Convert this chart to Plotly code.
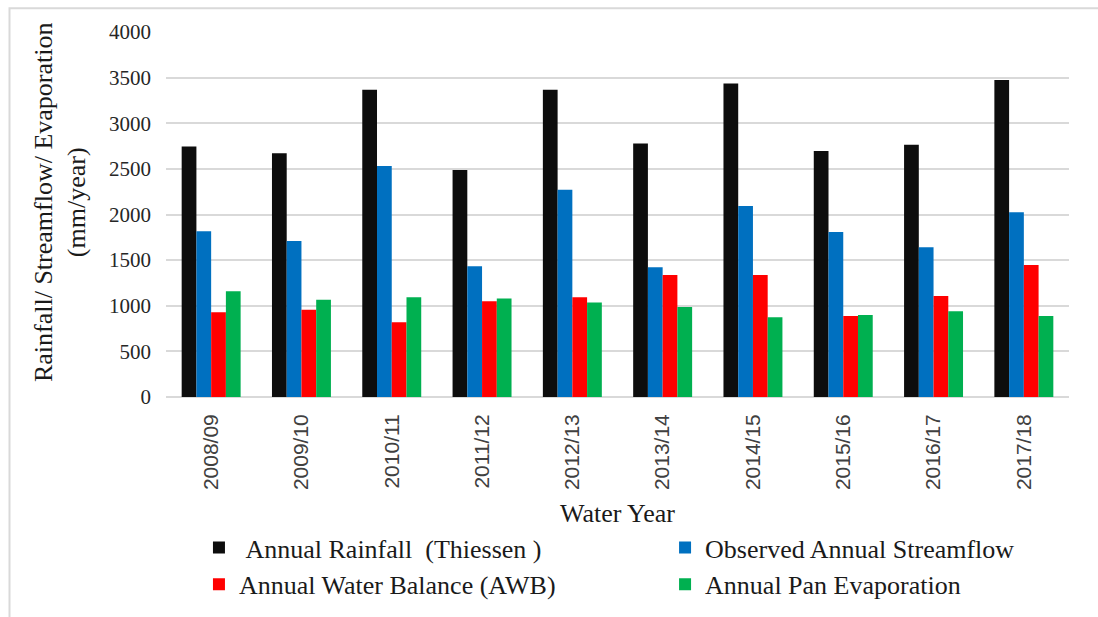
import plotly.graph_objects as go

# Water years on the category axis
years = ["2008/09", "2009/10", "2010/11", "2011/12", "2012/13",
         "2013/14", "2014/15", "2015/16", "2016/17", "2017/18"]

# Annual totals, mm/year
rainfall = [2746, 2670, 3366, 2487, 3366, 2779, 3435, 2695, 2764, 3475]
streamflow = [1816, 1710, 2531, 1433, 2271, 1422, 2093, 1808, 1641, 2024]
water_balance = [930, 955, 820, 1050, 1094, 1338, 1338, 889, 1108, 1447]
pan_evaporation = [1160, 1065, 1094, 1079, 1035, 985, 875, 900, 941, 889]

y_ticks = [0, 500, 1000, 1500, 2000, 2500, 3000, 3500, 4000]

# name, values, colour, legend column
series = [
    ("\u00a0Annual Rainfall \u00a0(Thiessen )", rainfall, "#0d0d0d", "legend"),
    ("Observed Annual Streamflow", streamflow, "#0070c0", "legend2"),
    ("Annual Water Balance (AWB)", water_balance, "#ff0000", "legend"),
    ("Annual Pan Evaporation", pan_evaporation, "#00b050", "legend2"),
]

SERIF = "Liberation Serif, Times New Roman, serif"
SANS = "Liberation Sans, Arial, sans-serif"

fig = go.Figure()
for name, values, color, leg in series:
    fig.add_trace(go.Bar(
        x=years, y=values, name=name, legend=leg,
        marker=dict(color=color, line=dict(width=0)),
    ))

legend_style = dict(
    orientation="v",
    xanchor="left", yanchor="top",
    xref="container", yref="container",
    y=0.1505,
    bgcolor="rgba(0,0,0,0)",
    font=dict(family=SERIF, size=26, color="#1a1a1a"),
    itemclick=False, itemdoubleclick=False,
    tracegroupgap=0,
)

fig.update_layout(
    width=1098, height=617,
    margin=dict(l=166, r=29, t=32, b=220, autoexpand=False),
    paper_bgcolor="white", plot_bgcolor="white",
    barmode="group", bargap=0.347, bargroupgap=0,
    showlegend=True,
    legend=dict(legend_style, x=0.1812),
    legend2=dict(legend_style, x=0.6057),
    xaxis=dict(
        type="category", automargin=False,
        tickangle=-90,
        tickfont=dict(family=SANS, size=21, color="#404040"),
        ticks="", showgrid=False,
        showline=False,
        ticklabelstandoff=12,
        title=dict(text="Water Year", font=dict(family=SERIF, size=26, color="#1a1a1a"),
                   standoff=14),
    ),
    yaxis=dict(
        range=[0, 4000], automargin=False,
        tickvals=y_ticks,
        ticktext=[str(v) for v in y_ticks],
        tickfont=dict(family=SERIF, size=21, color="#262626"),
        showgrid=True, gridcolor="#d9d9d9", gridwidth=1.5,
        zeroline=True, zerolinecolor="#d9d9d9", zerolinewidth=1.5,
        showline=False, ticks="",
        ticklabelstandoff=14,
    ),
    annotations=[dict(
        text="Rainfall/ Streamflow/ Evaporation<br>(mm/year)",
        xref="paper", yref="paper",
        x=-0.117, y=0.535, xanchor="center", yanchor="middle",
        textangle=-90, showarrow=False,
        font=dict(family=SERIF, size=26, color="#1a1a1a"),
    )],
    shapes=[dict(
        type="rect", xref="paper", yref="paper",
        x0=-0.1733, x1=1.2, y0=-1.2, y1=1.0648,
        line=dict(color="#d9d9d9", width=2),
        fillcolor="rgba(0,0,0,0)", layer="below",
    )],
)

fig.write_html("out.html")
